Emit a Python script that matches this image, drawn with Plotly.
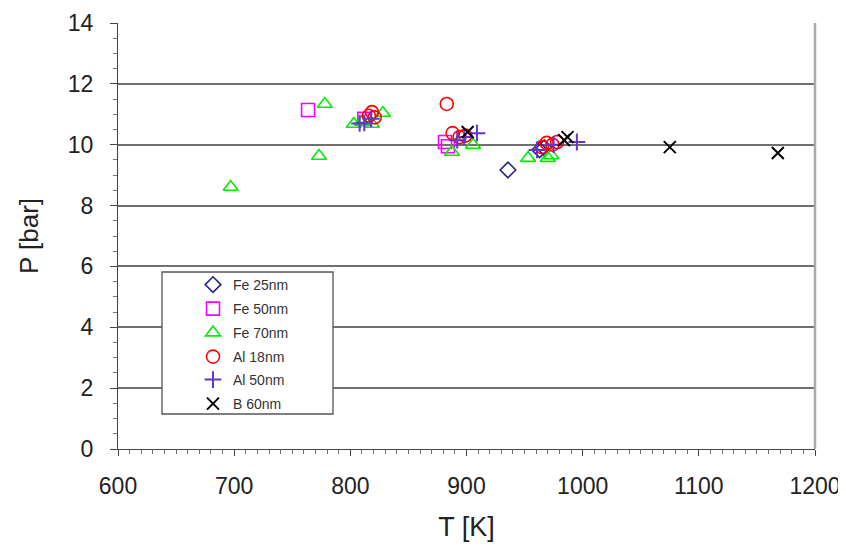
import plotly.graph_objects as go

# ---- data ----
fe25_T = [935.7, 963.0, 967.0]
fe25_P = [9.17, 9.83, 9.90]

fe50_T = [763.6, 881.5, 884.0, 812.0]
fe50_P = [11.14, 10.09, 9.95, 10.85]

fe70_T = [697.0, 773.0, 778.0, 803.0, 810.0, 818.6, 828.0, 887.5, 905.6, 953.0, 970.0, 973.0]
fe70_P = [8.61, 9.63, 11.34, 10.68, 10.75, 10.68, 11.04, 9.76, 9.99, 9.56, 9.56, 9.65]

al18_T = [818.6, 816.0, 821.0, 883.0, 888.0, 894.0, 899.0, 965.0, 969.0, 974.0, 978.0]
al18_P = [11.07, 10.95, 10.90, 11.34, 10.38, 10.25, 10.30, 9.92, 10.06, 10.00, 10.09]

al50_T = [808.0, 812.0, 818.0, 892.0, 898.0, 909.0, 960.7, 975.0, 995.0]
al50_P = [10.70, 10.72, 10.85, 10.15, 10.25, 10.38, 9.83, 10.00, 10.09]

b60_T = [901.0, 987.0, 984.0, 1075.0, 1168.0]
b60_P = [10.42, 10.25, 10.15, 9.92, 9.73]

series_names = ["Fe 25nm", "Fe 50nm", "Fe 70nm", "Al 18nm", "Al 50nm", "B 60nm"]
x_ticks = [600, 700, 800, 900, 1000, 1100, 1200]
y_ticks = [0, 2, 4, 6, 8, 10, 12, 14]

series_data = [(fe25_T, fe25_P), (fe50_T, fe50_P), (fe70_T, fe70_P),
               (al18_T, al18_P), (al50_T, al50_P), (b60_T, b60_P)]
styles = [
    ("diamond-open", "#23238c", 12),
    ("square-open", "#ff00ff", 13),
    ("triangle-up-open", "#00ee00", 13),
    ("circle-open", "#ff0000", 13),
    ("cross-thin-open", "#6633cc", 12),
    ("x-thin-open", "#000000", 12),
]

FONT = "Liberation Sans, Arial, sans-serif"

# figure geometry (page body has an 8px margin)
W, H = 846, 552
ML, MT, PW, PH = 110, 15, 697, 426
OFF = 8


def px_x(sx):
    return (sx - OFF - ML) / PW


def px_y(sy):
    return (MT + PH - (sy - OFF)) / PH


legend_rows = [285, 309, 333, 357, 380, 404]

fig = go.Figure()
layout_legends = {}
for i, (name, (T, P), (sym, col, sz)) in enumerate(zip(series_names, series_data, styles)):
    lg = "legend" if i == 0 else f"legend{i + 1}"
    fig.add_trace(go.Scatter(
        x=T, y=P, mode="markers", name=name, legend=lg,
        marker=dict(symbol=sym, size=sz, color=col,
                    line=dict(color=col, width=2 if "thin" in sym else 1.6)),
    ))
    layout_legends[lg] = dict(
        x=px_x(193), y=px_y(legend_rows[i]), xanchor="left", yanchor="middle",
        bgcolor="rgba(0,0,0,0)", borderwidth=0,
        font=dict(family=FONT, size=14, color="#333333"),
        itemwidth=30,
    )

# legend frame
fig.add_shape(type="rect", xref="paper", yref="paper",
              x0=px_x(162), x1=px_x(333), y0=px_y(414), y1=px_y(272),
              line=dict(color="#555555", width=1.3), fillcolor="white", layer="above")

fig.update_layout(
    width=W, height=H,
    margin=dict(l=ML, r=W - ML - PW, t=MT, b=H - MT - PH, autoexpand=False),
    paper_bgcolor="white", plot_bgcolor="white",
    font=dict(family=FONT, color="#222222"),
    showlegend=True,
    xaxis=dict(
        title=dict(text="T [K]", font=dict(size=27, family=FONT, color="#222222"), standoff=19),
        range=[600, 1200], tickvals=x_ticks, ticktext=[str(v) for v in x_ticks],
        tickfont=dict(size=23, family=FONT, color="#222222"),
        ticks="outside", ticklen=6, tickcolor="#444444", tickwidth=1,
        ticklabelstandoff=10,
        minor=dict(dtick=10, ticks="outside", ticklen=4, tickcolor="#777777", showgrid=False),
        showline=True, linecolor="#444444", linewidth=1.2,
        showgrid=False, zeroline=False,
    ),
    yaxis=dict(
        title=dict(text="P [bar]", font=dict(size=26, family=FONT, color="#222222"), standoff=21),
        range=[0, 14], tickvals=y_ticks, ticktext=[str(v) for v in y_ticks],
        tickfont=dict(size=23, family=FONT, color="#222222"),
        ticks="outside", ticklen=7, tickcolor="#444444", tickwidth=1,
        ticklabelstandoff=12,
        minor=dict(dtick=0.5, ticks="outside", ticklen=4, tickcolor="#777777", showgrid=False),
        showline=True, linecolor="#444444", linewidth=1.2,
        showgrid=True, gridcolor="#707070", gridwidth=1.5, zeroline=False,
    ),
    **layout_legends,
)

# right border of plot area
fig.add_shape(type="line", xref="paper", yref="paper", x0=1, x1=1, y0=0, y1=1,
              line=dict(color="#aaaaaa", width=2.5))

fig.write_html("out.html")
